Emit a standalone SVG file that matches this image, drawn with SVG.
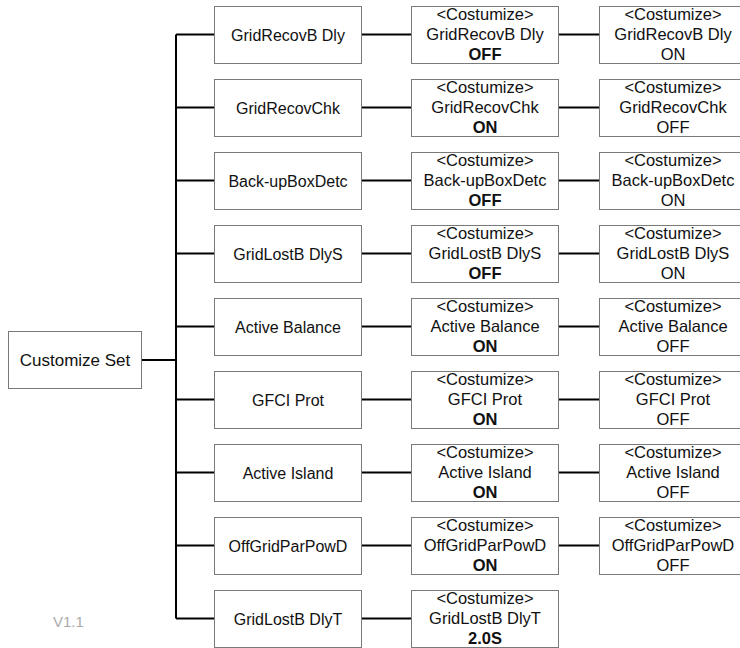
<svg xmlns="http://www.w3.org/2000/svg" width="740" height="648" viewBox="0 0 740 648">
<style>
.box{fill:#fff;stroke:#7a7a7a;stroke-width:1}
.t1{font-family:"Liberation Sans",Arial,sans-serif;font-size:16px;fill:#111;text-anchor:middle}
.t0{font-family:"Liberation Sans",Arial,sans-serif;font-size:17px;fill:#111;text-anchor:middle}
.t2{font-family:"Liberation Sans",Arial,sans-serif;font-size:16.5px;fill:#111;text-anchor:middle}
.b{font-weight:bold}
.ver{font-family:"Liberation Sans",Arial,sans-serif;font-size:15px;fill:#aaa}
.ln{stroke:#000;stroke-width:2;fill:none}
</style>
<defs>
<rect id="bx" class="box" width="147" height="57"/>
</defs>
<rect width="740" height="648" fill="#fff"/>
<g id="connectors">
<path class="ln" d="M141 360H176M176 34.5V618.5"/>
<path class="ln" d="M176 34.5H214M361 34.5H411M558 34.5H599"/>
<path class="ln" d="M176 107.5H214M361 107.5H411M558 107.5H599"/>
<path class="ln" d="M176 180.5H214M361 180.5H411M558 180.5H599"/>
<path class="ln" d="M176 253.5H214M361 253.5H411M558 253.5H599"/>
<path class="ln" d="M176 326.5H214M361 326.5H411M558 326.5H599"/>
<path class="ln" d="M176 399.5H214M361 399.5H411M558 399.5H599"/>
<path class="ln" d="M176 472.5H214M361 472.5H411M558 472.5H599"/>
<path class="ln" d="M176 545.5H214M361 545.5H411M558 545.5H599"/>
<path class="ln" d="M176 618.5H214M361 618.5H411"/>
</g>
<g id="root"><rect class="box" x="8.5" y="331.5" width="133" height="57"/><text class="t0" x="75" y="366">Customize Set</text></g>

<g id="n1"><use href="#bx" x="214.5" y="6.5"/><text class="t1" x="288" y="40.5">GridRecovB Dly</text></g>
<g id="n1a"><use href="#bx" x="411.5" y="6.5"/><text class="t2" x="485" y="19.5">&lt;Costumize&gt;</text><text class="t2" x="485" y="40">GridRecovB Dly</text><text class="t2 b" x="485" y="59.5">OFF</text></g>
<g id="n1b"><use href="#bx" x="599.5" y="6.5"/><text class="t2" x="673" y="19.5">&lt;Costumize&gt;</text><text class="t2" x="673" y="40">GridRecovB Dly</text><text class="t2" x="673" y="59.5">ON</text></g>

<g id="n2"><use href="#bx" x="214.5" y="79.5"/><text class="t1" x="288" y="113.5">GridRecovChk</text></g>
<g id="n2a"><use href="#bx" x="411.5" y="79.5"/><text class="t2" x="485" y="92.5">&lt;Costumize&gt;</text><text class="t2" x="485" y="113">GridRecovChk</text><text class="t2 b" x="485" y="132.5">ON</text></g>
<g id="n2b"><use href="#bx" x="599.5" y="79.5"/><text class="t2" x="673" y="92.5">&lt;Costumize&gt;</text><text class="t2" x="673" y="113">GridRecovChk</text><text class="t2" x="673" y="132.5">OFF</text></g>

<g id="n3"><use href="#bx" x="214.5" y="152.5"/><text class="t1" x="288" y="186.5">Back-upBoxDetc</text></g>
<g id="n3a"><use href="#bx" x="411.5" y="152.5"/><text class="t2" x="485" y="165.5">&lt;Costumize&gt;</text><text class="t2" x="485" y="186">Back-upBoxDetc</text><text class="t2 b" x="485" y="205.5">OFF</text></g>
<g id="n3b"><use href="#bx" x="599.5" y="152.5"/><text class="t2" x="673" y="165.5">&lt;Costumize&gt;</text><text class="t2" x="673" y="186">Back-upBoxDetc</text><text class="t2" x="673" y="205.5">ON</text></g>

<g id="n4"><use href="#bx" x="214.5" y="225.5"/><text class="t1" x="288" y="259.5">GridLostB DlyS</text></g>
<g id="n4a"><use href="#bx" x="411.5" y="225.5"/><text class="t2" x="485" y="238.5">&lt;Costumize&gt;</text><text class="t2" x="485" y="259">GridLostB DlyS</text><text class="t2 b" x="485" y="278.5">OFF</text></g>
<g id="n4b"><use href="#bx" x="599.5" y="225.5"/><text class="t2" x="673" y="238.5">&lt;Costumize&gt;</text><text class="t2" x="673" y="259">GridLostB DlyS</text><text class="t2" x="673" y="278.5">ON</text></g>

<g id="n5"><use href="#bx" x="214.5" y="298.5"/><text class="t1" x="288" y="332.5">Active Balance</text></g>
<g id="n5a"><use href="#bx" x="411.5" y="298.5"/><text class="t2" x="485" y="311.5">&lt;Costumize&gt;</text><text class="t2" x="485" y="332">Active Balance</text><text class="t2 b" x="485" y="351.5">ON</text></g>
<g id="n5b"><use href="#bx" x="599.5" y="298.5"/><text class="t2" x="673" y="311.5">&lt;Costumize&gt;</text><text class="t2" x="673" y="332">Active Balance</text><text class="t2" x="673" y="351.5">OFF</text></g>

<g id="n6"><use href="#bx" x="214.5" y="371.5"/><text class="t1" x="288" y="405.5">GFCI Prot</text></g>
<g id="n6a"><use href="#bx" x="411.5" y="371.5"/><text class="t2" x="485" y="384.5">&lt;Costumize&gt;</text><text class="t2" x="485" y="405">GFCI Prot</text><text class="t2 b" x="485" y="424.5">ON</text></g>
<g id="n6b"><use href="#bx" x="599.5" y="371.5"/><text class="t2" x="673" y="384.5">&lt;Costumize&gt;</text><text class="t2" x="673" y="405">GFCI Prot</text><text class="t2" x="673" y="424.5">OFF</text></g>

<g id="n7"><use href="#bx" x="214.5" y="444.5"/><text class="t1" x="288" y="478.5">Active Island</text></g>
<g id="n7a"><use href="#bx" x="411.5" y="444.5"/><text class="t2" x="485" y="457.5">&lt;Costumize&gt;</text><text class="t2" x="485" y="478">Active Island</text><text class="t2 b" x="485" y="497.5">ON</text></g>
<g id="n7b"><use href="#bx" x="599.5" y="444.5"/><text class="t2" x="673" y="457.5">&lt;Costumize&gt;</text><text class="t2" x="673" y="478">Active Island</text><text class="t2" x="673" y="497.5">OFF</text></g>

<g id="n8"><use href="#bx" x="214.5" y="517.5"/><text class="t1" x="288" y="551.5">OffGridParPowD</text></g>
<g id="n8a"><use href="#bx" x="411.5" y="517.5"/><text class="t2" x="485" y="530.5">&lt;Costumize&gt;</text><text class="t2" x="485" y="551">OffGridParPowD</text><text class="t2 b" x="485" y="570.5">ON</text></g>
<g id="n8b"><use href="#bx" x="599.5" y="517.5"/><text class="t2" x="673" y="530.5">&lt;Costumize&gt;</text><text class="t2" x="673" y="551">OffGridParPowD</text><text class="t2" x="673" y="570.5">OFF</text></g>

<g id="n9"><use href="#bx" x="214.5" y="590.5"/><text class="t1" x="288" y="624.5">GridLostB DlyT</text></g>
<g id="n9a"><use href="#bx" x="411.5" y="590.5"/><text class="t2" x="485" y="603.5">&lt;Costumize&gt;</text><text class="t2" x="485" y="624">GridLostB DlyT</text><text class="t2 b" x="485" y="643.5">2.0S</text></g>

<text class="ver" x="53" y="627">V1.1</text>
</svg>
